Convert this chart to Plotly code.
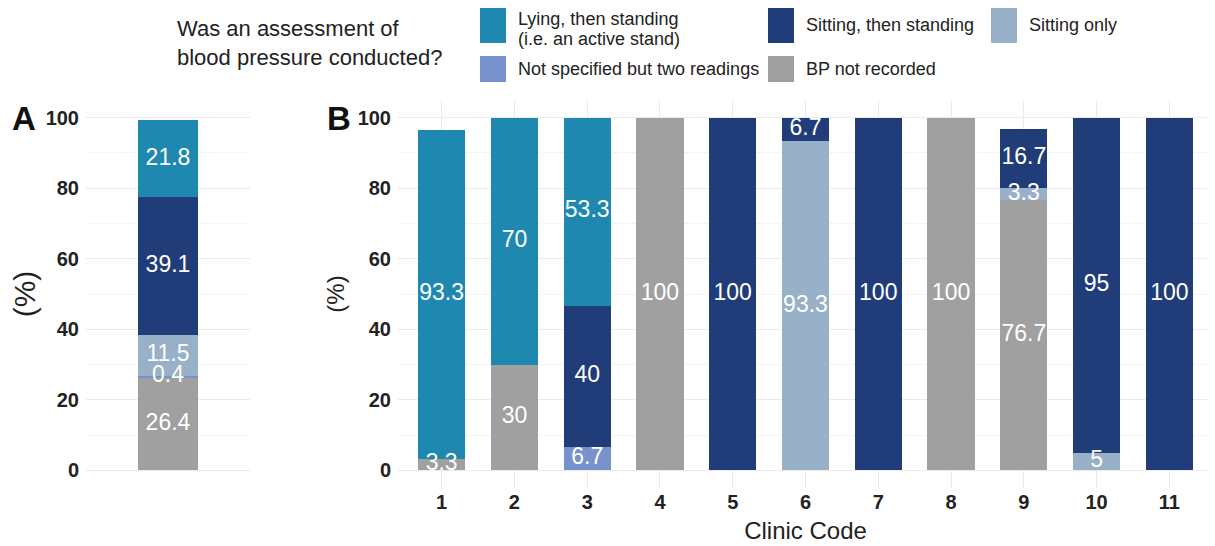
import plotly.graph_objects as go

# ---------------- data ----------------
categories = [["Lying, then standing", "(i.e. an active stand)"], ["Sitting, then standing"],
              ["Sitting only"], ["Not specified but two readings"], ["BP not recorded"]]
colors = ["#1F88B0", "#203D7A", "#98B0C8", "#7892CE", "#A0A0A0"]

clinics = [1, 2, 3, 4, 5, 6, 7, 8, 9, 10, 11]
lying = [93.3, 70, 53.3, 0, 0, 0, 0, 0, 0, 0, 0]
sit_stand = [0, 0, 40, 0, 100, 6.7, 100, 0, 16.7, 95, 100]
sit_only = [0, 0, 0, 0, 0, 93.3, 0, 0, 3.3, 5, 0]
not_spec = [0, 0, 6.7, 0, 0, 0, 0, 0, 0, 0, 0]
not_rec = [3.3, 30, 0, 100, 0, 0, 0, 100, 76.7, 0, 0]

overall = {"lying": 21.8, "sit_stand": 39.1, "sit_only": 11.5, "not_spec": 0.4, "not_rec": 26.4}

y_ticks = [0, 20, 40, 60, 80, 100]

# stacking order bottom -> top
stack_b = [not_rec, not_spec, sit_only, sit_stand, lying]
stack_a = [overall["not_rec"], overall["not_spec"], overall["sit_only"], overall["sit_stand"], overall["lying"]]
stack_colors = [colors[4], colors[3], colors[2], colors[1], colors[0]]

# page has an 8px body margin: compensate so the figure fills the window exactly
OFF = 8
W, H = 1215 - OFF, 546 - OFF
FONT = "Liberation Sans, Arial, sans-serif"
LABEL_SIZE = 23

fig = go.Figure()

# Panel A
base = 0
lab_x, lab_y, lab_t = [], [], []
for v, c in zip(stack_a, stack_colors):
    fig.add_trace(go.Bar(x=["All"], y=[v], marker=dict(color=c, line=dict(width=0)),
                         width=0.37, xaxis="x", yaxis="y", showlegend=False, hoverinfo="y"))
    if v > 0:
        lab_x.append("All"); lab_y.append(base + v / 2); lab_t.append(f"{v:g}")
    base += v
fig.add_trace(go.Scatter(x=lab_x, y=lab_y, text=lab_t, mode="text",
                         textfont=dict(color="white", size=LABEL_SIZE, family=FONT),
                         xaxis="x", yaxis="y", showlegend=False, hoverinfo="skip"))

# Panel B
bases = [0] * len(clinics)
bx, by, bt = [], [], []
for vals, c in zip(stack_b, stack_colors):
    fig.add_trace(go.Bar(x=clinics, y=vals, marker=dict(color=c, line=dict(width=0)),
                         width=0.65, xaxis="x2", yaxis="y2", showlegend=False))
    for i, v in enumerate(vals):
        if v > 0:
            bx.append(clinics[i]); by.append(bases[i] + v / 2); bt.append(f"{v:g}")
        bases[i] += v
fig.add_trace(go.Scatter(x=bx, y=by, text=bt, mode="text",
                         textfont=dict(color="white", size=LABEL_SIZE, family=FONT),
                         xaxis="x2", yaxis="y2", showlegend=False, hoverinfo="skip"))

def px(x):
    return (x - OFF) / W

def py(y):
    return 1 - (y - OFF) / H

ydom = [py(488), py(100)]
yax = dict(range=[-5, 105], tickvals=y_ticks, showgrid=True, gridcolor="#EBEBEB", gridwidth=1,
           minor=dict(dtick=10, tick0=0, showgrid=True, gridcolor="#F4F4F4", gridwidth=1),
           zeroline=False, showline=False, ticks="", automargin=False, ticklabelstandoff=6,
           tickfont=dict(size=20, family=FONT, color="#222222", weight="bold"))

fig.update_layout(
    width=W, height=H, margin=dict(l=0, r=0, t=0, b=0, autoexpand=False),
    plot_bgcolor="white", paper_bgcolor="white", barmode="stack",
    font=dict(family=FONT, color="#222222"),
    xaxis=dict(domain=[px(86), px(250)], range=[-0.5, 0.5], showticklabels=False,
               showgrid=False, zeroline=False, ticks="", automargin=False),
    yaxis=dict(domain=ydom, anchor="x", **yax,
               title=dict(text="(%)", font=dict(size=30, family=FONT, color="#222222"), standoff=3)),
    xaxis2=dict(domain=[px(398), px(1213)], range=[0.4, 11.6], tickvals=clinics,
                showgrid=True, gridcolor="#EBEBEB", zeroline=False, ticks="", automargin=False,
                tickfont=dict(size=20, family=FONT, color="#222222", weight="bold"),
                title=dict(text="Clinic Code", font=dict(size=24, family=FONT, color="#222222"), standoff=10)),
    yaxis2=dict(domain=ydom, anchor="x2", **yax,
                title=dict(text="(%)", font=dict(size=24, family=FONT, color="#222222"), standoff=6)),
    bargap=0,
)

shapes = []
annotations = []
# panel letters
annotations.append(dict(text="<b>A</b>", x=px(10), y=py(118), xref="paper", yref="paper",
                        xanchor="left", yanchor="middle", showarrow=False,
                        font=dict(size=33, family=FONT, color="#111111")))
annotations.append(dict(text="<b>B</b>", x=px(325), y=py(118), xref="paper", yref="paper",
                        xanchor="left", yanchor="middle", showarrow=False,
                        font=dict(size=33, family=FONT, color="#111111")))
# legend title
annotations.append(dict(text="Was an assessment of<br>blood pressure conducted?", x=px(175), y=py(43),
                        xref="paper", yref="paper", xanchor="left", yanchor="middle", align="left",
                        showarrow=False, font=dict(size=22, family=FONT, color="#222222")))
# legend entries: (category index, key x0, key y0, key y1, text line centres)
legend_pos = [(0, 480, 8, 43, [18.5, 38.5]), (1, 768, 8, 43, [25]), (2, 991, 8, 43, [25]),
              (3, 480, 56, 82, [69]), (4, 768, 56, 82, [69])]
for idx, x0, y0, y1, ys in legend_pos:
    shapes.append(dict(type="rect", xref="paper", yref="paper", x0=px(x0), x1=px(x0 + 26),
                       y0=py(y1), y1=py(y0), fillcolor=colors[idx], line=dict(width=0)))
    for line, yc in zip(categories[idx], ys):
        annotations.append(dict(text=line, x=px(x0 + 36), y=py(yc),
                                xref="paper", yref="paper", xanchor="left", yanchor="middle",
                                align="left", showarrow=False,
                                font=dict(size=18, family=FONT, color="#222222")))

fig.update_layout(shapes=shapes, annotations=annotations)
fig.write_html("out.html")
